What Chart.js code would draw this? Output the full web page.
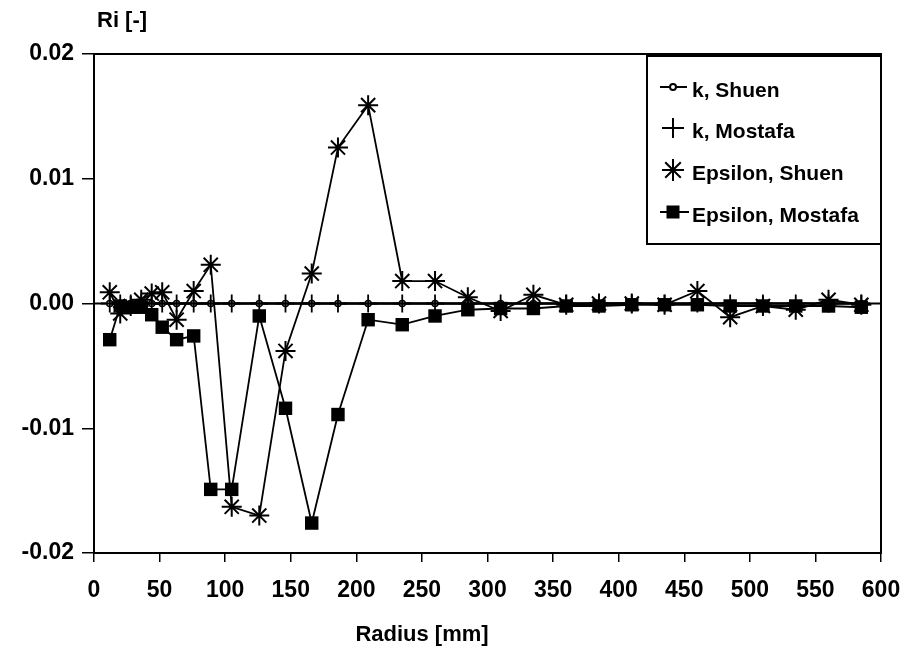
<!DOCTYPE html>
<html>
<head>
<meta charset="utf-8">
<script src="https://cdn.jsdelivr.net/npm/chart.js@4/dist/chart.umd.min.js"></script>
<style>
  html, body { margin: 0; padding: 0; background: #fff; }
  #wrap { width: 906px; height: 657px; position: relative; }
</style>
</head>
<body>
<div id="wrap"><canvas id="c" width="906" height="657"></canvas></div>
<script>
// ---- data ----
const radius = [12, 20, 28, 36, 44, 52, 63, 76, 89, 105, 126, 146, 166, 186, 209, 235, 260, 285, 310, 335, 360, 385, 410, 435, 460, 485, 510, 535, 560, 585];
const kShuen = [0, 0, 0, 0, 0, 0, 0, 0, 0, 0, 0, 0, 0, 0, 0, 0, 0, 0, 0, 0, 0, 0, 0, 0, 0, 0, 0, 0, 0, 0];
const kMostafa = [0, 0, 0, 0, 0, 0, 0, 0, 0, 0, 0, 0, 0, 0, 0, 0, 0, 0, 0, 0, 0, 0, 0, 0, 0, 0, 0, 0, 0, 0];
const epsShuen = [0.0009, -0.0008, -0.0002, 0.0003, 0.0008, 0.0009, -0.0013, 0.0010, 0.0031, -0.0163, -0.0170, -0.0038, 0.0024, 0.0125, 0.0159, 0.0018, 0.0018, 0.0005, -0.0006, 0.0007, -0.0001, 0.0000, 0.0000, -0.0001, 0.0010, -0.0011, -0.0002, -0.0005, 0.0003, -0.0001];
const epsMostafa = [-0.0029, -0.0002, -0.0003, -0.0003, -0.0009, -0.0019, -0.0029, -0.0026, -0.0149, -0.0149, -0.0010, -0.0084, -0.0176, -0.0089, -0.0013, -0.0017, -0.0010, -0.0005, -0.0004, -0.0004, -0.0002, -0.0002, -0.0001, -0.0001, -0.0001, -0.0002, -0.0002, -0.0002, -0.0002, -0.0003];
const seriesNames = ['k, Shuen', 'k, Mostafa', 'Epsilon, Shuen', 'Epsilon, Mostafa'];
const xTicks = [0, 50, 100, 150, 200, 250, 300, 350, 400, 450, 500, 550, 600];
const yTicks = [-0.02, -0.01, 0, 0.01, 0.02];
const xTitle = 'Radius [mm]';
const yTitle = 'Ri [-]';

const FONT = '"Liberation Sans", Arial, Helvetica, sans-serif';

function pts(vals) { return radius.map((r, i) => ({ x: r, y: vals[i] })); }

function drawSym(ctx, kind, cx, cy) {
  ctx.save();
  ctx.strokeStyle = '#000'; ctx.fillStyle = '#000'; ctx.lineWidth = 2;
  if (kind === 0) {
    ctx.beginPath(); ctx.moveTo(cx - 13, cy); ctx.lineTo(cx + 14, cy); ctx.stroke();
    ctx.beginPath(); ctx.arc(cx, cy, 3, 0, Math.PI * 2); ctx.fillStyle = '#fff'; ctx.fill(); ctx.stroke();
  } else if (kind === 1) {
    ctx.beginPath(); ctx.moveTo(cx - 11, cy); ctx.lineTo(cx + 11, cy);
    ctx.moveTo(cx, cy - 10); ctx.lineTo(cx, cy + 10); ctx.stroke();
  } else if (kind === 2) {
    const r = 11;
    ctx.beginPath();
    for (let k = 0; k < 4; k++) {
      const a = k * Math.PI / 4;
      ctx.moveTo(cx - r * Math.cos(a), cy - r * Math.sin(a));
      ctx.lineTo(cx + r * Math.cos(a), cy + r * Math.sin(a));
    }
    ctx.stroke();
  } else {
    ctx.beginPath(); ctx.moveTo(cx - 13, cy); ctx.lineTo(cx + 16, cy); ctx.stroke();
    ctx.fillRect(cx - 6.5, cy - 6.5, 13, 13);
  }
  ctx.restore();
}

const framePlugin = {
  id: 'frame',
  beforeDatasetsDraw(chart) {
    const { ctx, chartArea: a, scales } = chart;
    ctx.save();
    ctx.strokeStyle = '#000';
    ctx.lineWidth = 2;
    ctx.strokeRect(a.left, a.top, a.right - a.left, a.bottom - a.top);
    const y0 = scales.y.getPixelForValue(0);
    ctx.beginPath(); ctx.moveTo(a.left, y0); ctx.lineTo(a.right, y0); ctx.stroke();
    ctx.restore();
  },
  afterDraw(chart) {
    const { ctx, chartArea: a } = chart;
    ctx.save();
    ctx.fillStyle = '#000';
    ctx.font = 'bold 22px ' + FONT;
    ctx.textBaseline = 'middle';
    ctx.textAlign = 'left';
    ctx.fillText(yTitle, a.left + 3, 21);
    ctx.textAlign = 'center';
    ctx.fillText(xTitle, 422, 635);
    // legend
    const L = a.right - 234, T = a.top + 2, W = 234, H = 188;
    ctx.fillStyle = '#fff';
    ctx.fillRect(L, T, W, H);
    ctx.strokeStyle = '#000'; ctx.lineWidth = 2;
    ctx.strokeRect(L, T, W, H);
    const offs = [35, 76, 118, 160];
    ctx.textAlign = 'left';
    ctx.font = 'bold 21px ' + FONT;
    seriesNames.forEach((name, i) => {
      drawSym(ctx, i, L + 26, T + offs[i] - 4);
      ctx.fillStyle = '#000';
      ctx.fillText(name, L + 45, T + offs[i]);
    });
    ctx.restore();
  }
};

new Chart(document.getElementById('c'), {
  type: 'line',
  data: {
    datasets: [
      { label: seriesNames[3], data: pts(epsMostafa), borderColor: '#000', backgroundColor: '#000', borderWidth: 1.8,
        pointStyle: 'rect', pointRadius: 9.5, pointBorderWidth: 0, tension: 0 },
      { label: seriesNames[2], data: pts(epsShuen), borderColor: '#000', backgroundColor: '#000', borderWidth: 1.8,
        pointStyle: 'star', pointRadius: 10, pointBorderWidth: 2, tension: 0 },
      { label: seriesNames[1], data: pts(kMostafa), borderColor: '#000', backgroundColor: '#000', borderWidth: 1.8,
        pointStyle: 'cross', pointRadius: 9, pointBorderWidth: 1.8, tension: 0 },
      { label: seriesNames[0], data: pts(kShuen), borderColor: '#000', backgroundColor: '#fff', borderWidth: 1.8,
        pointStyle: 'circle', pointRadius: 3, pointBorderWidth: 1.5, tension: 0 }
    ]
  },
  options: {
    responsive: false,
    animation: false,
    events: [],
    layout: { padding: { top: 54, right: 25, bottom: 0, left: 0 } },
    plugins: { legend: { display: false }, tooltip: { enabled: false }, title: { display: false } },
    scales: {
      x: {
        type: 'linear', min: 0, max: 600,
        afterBuildTicks(s) { s.ticks = xTicks.map(v => ({ value: v })); },
        afterFit(s) { s.height = 104; s.paddingLeft = 0; s.paddingRight = 0; },
        grid: { drawOnChartArea: false, drawTicks: true, tickLength: 9, color: '#000', lineWidth: 1.5 },
        border: { display: true, color: '#000', width: 2 },
        ticks: { color: '#000', font: { family: FONT, size: 23, weight: 'bold' }, padding: 15, maxRotation: 0, autoSkip: false }
      },
      y: {
        type: 'linear', min: -0.02, max: 0.02,
        afterBuildTicks(s) { s.ticks = yTicks.map(v => ({ value: v })); },
        afterFit(s) { s.width = 94; s.paddingTop = 0; s.paddingBottom = 0; },
        grid: { drawOnChartArea: false, drawTicks: true, tickLength: 12, color: '#000', lineWidth: 1.5 },
        border: { display: true, color: '#000', width: 2 },
        ticks: { color: '#000', font: { family: FONT, size: 23, weight: 'bold' }, padding: 8, autoSkip: false,
          callback: v => Number(v).toFixed(2) }
      }
    }
  },
  plugins: [framePlugin]
});
</script>
</body>
</html>
